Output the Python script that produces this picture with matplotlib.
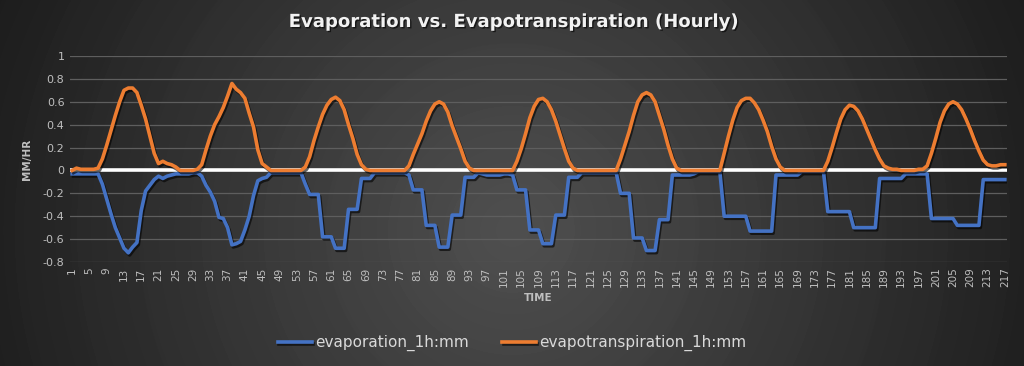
import numpy as np
import matplotlib
matplotlib.use('Agg')
import matplotlib.pyplot as plt
import matplotlib.patheffects as pe

# hourly values (hour 1..217)
evaporation = [
    -0.03, -0.03, -0.03, -0.03, -0.03, -0.03, -0.03, -0.12, -0.25, -0.38,
    -0.50, -0.59, -0.68, -0.72, -0.67, -0.63, -0.35, -0.18, -0.13, -0.08,
    -0.05, -0.07, -0.05, -0.04, -0.03, -0.03, -0.03, -0.03, -0.02, -0.02,
    -0.05, -0.13, -0.19, -0.27, -0.41, -0.42, -0.50, -0.65, -0.64, -0.62,
    -0.52, -0.40, -0.22, -0.09, -0.07, -0.06, -0.02, -0.02, -0.02, -0.02,
    -0.02, -0.02, -0.02, -0.02, -0.12, -0.21, -0.21, -0.21, -0.58, -0.58,
    -0.58, -0.68, -0.68, -0.68, -0.34, -0.34, -0.34, -0.07, -0.07, -0.07,
    -0.02, -0.02, -0.02, -0.02, -0.02, -0.02, -0.02, -0.02, -0.04, -0.17,
    -0.17, -0.17, -0.48, -0.48, -0.48, -0.67, -0.67, -0.67, -0.39, -0.39,
    -0.39, -0.06, -0.06, -0.06, -0.02, -0.03, -0.04, -0.04, -0.04, -0.04,
    -0.03, -0.03, -0.04, -0.17, -0.17, -0.17, -0.52, -0.52, -0.52, -0.64,
    -0.64, -0.64, -0.39, -0.39, -0.39, -0.06, -0.06, -0.06, -0.02, -0.02,
    -0.02, -0.02, -0.02, -0.02, -0.02, -0.02, -0.02, -0.20, -0.20, -0.20,
    -0.59, -0.59, -0.59, -0.70, -0.70, -0.70, -0.43, -0.43, -0.43, -0.04,
    -0.04, -0.04, -0.04, -0.04, -0.03, -0.01, -0.01, -0.01, -0.01, -0.01,
    -0.01, -0.40, -0.40, -0.40, -0.40, -0.40, -0.40, -0.53, -0.53, -0.53,
    -0.53, -0.53, -0.53, -0.04, -0.04, -0.04, -0.04, -0.04, -0.04, -0.01,
    -0.01, -0.01, -0.01, -0.01, -0.01, -0.36, -0.36, -0.36, -0.36, -0.36,
    -0.36, -0.50, -0.50, -0.50, -0.50, -0.50, -0.50, -0.07, -0.07, -0.07,
    -0.07, -0.07, -0.07, -0.03, -0.03, -0.03, -0.03, -0.03, -0.03, -0.42,
    -0.42, -0.42, -0.42, -0.42, -0.42, -0.48, -0.48, -0.48, -0.48, -0.48,
    -0.48, -0.08, -0.08, -0.08, -0.08, -0.08, -0.08,
]
evapotranspiration = [
    0.00, 0.02, 0.01, 0.01, 0.01, 0.01, 0.02, 0.10, 0.22, 0.35,
    0.48, 0.60, 0.70, 0.72, 0.72, 0.68, 0.57, 0.45, 0.30, 0.15,
    0.06, 0.08, 0.06, 0.05, 0.03, 0.00, 0.00, 0.00, 0.00, 0.01,
    0.05, 0.18, 0.30, 0.40, 0.47, 0.55, 0.65, 0.76, 0.71, 0.68,
    0.63, 0.50, 0.38, 0.18, 0.06, 0.03, 0.00, 0.00, 0.00, 0.00,
    0.00, 0.00, 0.00, 0.00, 0.03, 0.12, 0.26, 0.38, 0.49, 0.57,
    0.62, 0.64, 0.61, 0.53, 0.40, 0.28, 0.14, 0.05, 0.01, 0.00,
    0.00, 0.00, 0.00, 0.00, 0.00, 0.00, 0.00, 0.00, 0.04, 0.14,
    0.23, 0.32, 0.43, 0.52, 0.58, 0.60, 0.58, 0.51, 0.39, 0.29,
    0.19, 0.08, 0.02, 0.00, 0.00, 0.00, 0.00, 0.00, 0.00, 0.00,
    0.00, 0.00, 0.00, 0.08, 0.19, 0.32, 0.46, 0.56, 0.62, 0.63,
    0.60, 0.53, 0.43, 0.31, 0.19, 0.08, 0.02, 0.00, 0.00, 0.00,
    0.00, 0.00, 0.00, 0.00, 0.00, 0.00, 0.00, 0.10, 0.22, 0.34,
    0.48, 0.60, 0.66, 0.68, 0.66, 0.60, 0.48, 0.36, 0.22, 0.10,
    0.02, 0.00, 0.00, 0.00, 0.00, 0.00, 0.00, 0.00, 0.00, 0.00,
    0.00, 0.15, 0.30, 0.44, 0.55, 0.61, 0.63, 0.63, 0.59, 0.53,
    0.44, 0.34, 0.21, 0.10, 0.03, 0.00, 0.00, 0.00, 0.00, 0.00,
    0.00, 0.00, 0.00, 0.00, 0.00, 0.08, 0.20, 0.33, 0.45, 0.53,
    0.57, 0.56, 0.52, 0.45, 0.36, 0.27, 0.18, 0.10, 0.04, 0.02,
    0.01, 0.01, 0.00, 0.00, 0.00, 0.00, 0.01, 0.01, 0.04, 0.15,
    0.28, 0.42, 0.52, 0.58, 0.60, 0.58, 0.53, 0.45, 0.36, 0.26,
    0.17, 0.09, 0.05, 0.04, 0.04, 0.05, 0.05,
]
hours = np.arange(1, len(evaporation) + 1)
tick_hours = np.arange(1, 218, 4)
y_ticks = [-0.8, -0.6, -0.4, -0.2, 0, 0.2, 0.4, 0.6, 0.8, 1]
y_labels = ['-0.8', '-0.6', '-0.4', '-0.2', '0', '0.2', '0.4', '0.6', '0.8', '1']

W, H = 1024, 366
fig = plt.figure(figsize=(W / 100, H / 100), dpi=100)

# radial dark background with faint rings
bg = fig.add_axes([0, 0, 1, 1])
yy, xx = np.mgrid[0:H, 0:W]
r = np.sqrt((xx - 512) ** 2 + (yy - 230) ** 2) / 560
r = np.clip(r, 0, 1)
rings = np.floor(r * 9) / 9
val = 0.7 * r + 0.3 * rings
shade = 0.31 - 0.20 * val
img = np.dstack([shade, shade, shade])
bg.imshow(img, aspect='auto', interpolation='bilinear')
bg.axis('off')

ax = fig.add_axes([70 / W, 1 - 262 / H, 937 / W, 206 / H])
ax.set_facecolor('none')
for s in ax.spines.values():
    s.set_visible(False)

for t in y_ticks:
    if t != 0:
        ax.axhline(t, color='#5e5e5e', lw=0.9, zorder=1)
ax.axhline(0, color='white', lw=2.6, zorder=2)

shadow = [pe.SimpleLineShadow(offset=(1, -1.5), shadow_color='black', alpha=0.6), pe.Normal()]
ax.plot(hours, evaporation, color='#4472C4', lw=2.6, zorder=3,
        label='evaporation_1h:mm', path_effects=shadow)
ax.plot(hours, evapotranspiration, color='#ED7D31', lw=2.6, zorder=4,
        label='evapotranspiration_1h:mm', path_effects=shadow)

ax.set_xlim(0.5, len(hours) + 0.5)
ax.set_ylim(-0.8, 1)
ax.set_xticks(tick_hours)
ax.set_xticklabels([str(h) for h in tick_hours], rotation=90, fontsize=7.5, color='#bfbfbf')
ax.set_yticks(y_ticks)
ax.set_yticklabels(y_labels, fontsize=8, color='#bfbfbf')
ax.tick_params(length=0, pad=4)

ax.set_xlabel('TIME', fontsize=7.5, fontweight='bold', color='#bfbfbf', labelpad=4)
ax.set_ylabel('MM/HR', fontsize=7.5, fontweight='bold', color='#bfbfbf', labelpad=8)

fig.text(0.5, 1 - 22 / H, 'Evaporation vs. Evapotranspiration (Hourly)', ha='center', va='center',
         fontsize=13, fontweight='bold', color='#f2f2f2',
         path_effects=[pe.withSimplePatchShadow(offset=(1, -1), shadow_rgbFace='black', alpha=0.6)])

leg = fig.legend(loc='center', bbox_to_anchor=(0.5, 1 - 343 / H), ncol=2, frameon=False,
                 fontsize=11, handlelength=2.2, handletextpad=0.2, columnspacing=2.2)
for txt in leg.get_texts():
    txt.set_color('#d9d9d9')

fig.savefig('out.png', dpi=100)
